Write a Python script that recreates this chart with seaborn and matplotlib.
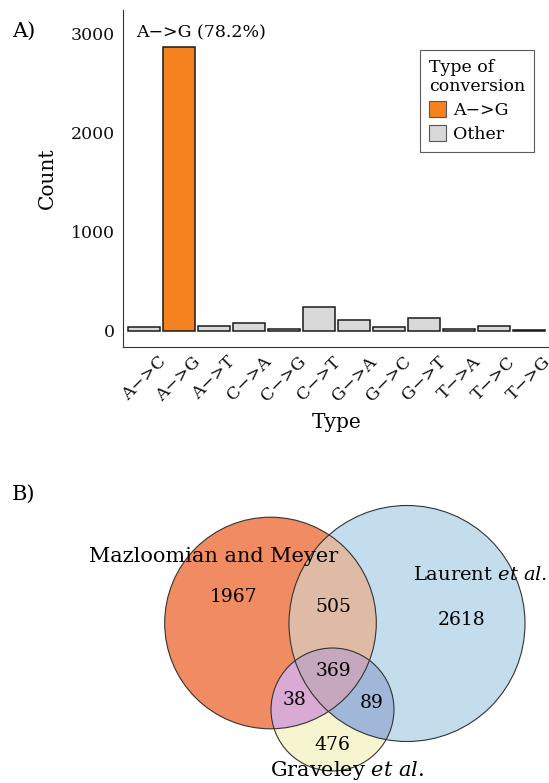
import numpy as np
import pandas as pd
import matplotlib
matplotlib.use("Agg")
import matplotlib.pyplot as plt
import seaborn as sns
from matplotlib.patches import Circle, Patch, Polygon

# ---- Panel A data: counts of each nucleotide conversion type ----
types = ["A−>C", "A−>G", "A−>T", "C−>A", "C−>G", "C−>T",
         "G−>A", "G−>C", "G−>T", "T−>A", "T−>C", "T−>G"]
counts = [37, 2873, 53, 84, 23, 245, 111, 37, 128, 23, 50, 10]
highlight = "A−>G"
groups = [highlight if t == highlight else "Other" for t in types]
group_colors = {highlight: "#F5821F", "Other": "#D9D9D9"}
yticks = [0, 1000, 2000, 3000]

# ---- Panel B data: overlap of editing sites between studies ----
set_names = ["Mazloomian and Meyer", r"Laurent $\mathit{et\ al.}$",
             r"Graveley $\mathit{et\ al.}$"]
only_m, only_l, only_g = 1967, 2618, 476
m_l, m_g, l_g = 505, 38, 89
m_l_g = 369

sns.set_style("white")
plt.rcParams["font.family"] = ["DejaVu Serif"]
plt.rcParams["mathtext.fontset"] = "custom"
plt.rcParams["mathtext.rm"] = "DejaVu Serif"
plt.rcParams["mathtext.it"] = "DejaVu Serif:italic"
plt.rcParams["text.color"] = "black"
plt.rcParams["axes.labelcolor"] = "black"

W, H = 549, 783
fig = plt.figure(figsize=(W / 100, H / 100), dpi=100, facecolor="white")

# ---------------- Panel A: bar chart ----------------
ax = fig.add_axes([123 / W, 1 - 347 / H, (550 - 123) / W, (347 - 10) / H])
df = pd.DataFrame({"Type": types, "Count": counts, "group": groups})
sns.barplot(data=df, x="Type", y="Count", hue="group", order=types,
            palette=group_colors, saturation=1, dodge=False, width=0.9,
            edgecolor="#1a1a1a", linewidth=1.1, legend=False, ax=ax)
ax.set_xlim(-0.6, len(types) - 0.4)
ax.set_ylim(-162, 3242)
ax.set_yticks(yticks)
ax.set_yticklabels([str(v) for v in yticks])
for side in ["top", "right"]:
    ax.spines[side].set_visible(False)
for side in ["left", "bottom"]:
    ax.spines[side].set_color("#333333")
    ax.spines[side].set_linewidth(0.8)
ax.tick_params(axis="both", direction="out", length=3, width=0.8,
               color="#333333", labelsize=12.5, labelcolor="#111111")
ax.tick_params(axis="x", pad=1.5, labelrotation=45)
ax.tick_params(axis="y", pad=3)
ax.set_xlabel("Type", fontsize=14.5, labelpad=6)
ax.set_ylabel("Count", fontsize=14.5, labelpad=10)

i_hl = types.index(highlight)
pct = 100 * counts[i_hl] / sum(counts)
ax.text(i_hl + 0.63, counts[i_hl] + 140, f"{highlight} ({pct:.1f}%)",
        ha="center", va="center", fontsize=12.5)

handles = [Patch(facecolor=group_colors[g], edgecolor="#555555", linewidth=0.8,
                 label=g) for g in [highlight, "Other"]]
leg = ax.legend(handles=handles, title="Type of\nconversion",
                loc="upper right", bbox_to_anchor=(534 / W, 1 - 50 / H),
                bbox_transform=fig.transFigure, borderaxespad=0,
                fontsize=12.5, title_fontsize=12.5, frameon=True,
                fancybox=False, edgecolor="#333333", handlelength=1.0,
                handleheight=1.0, handletextpad=0.4, labelspacing=0.35,
                borderpad=0.5, alignment="left")
leg.get_frame().set_linewidth(0.8)

fig.text(12 / W, 1 - 31 / H, "A)", fontsize=15, va="center")
fig.text(12 / W, 1 - 494 / H, "B)", fontsize=15, va="center")

# ---------------- Panel B: three-way Venn diagram ----------------
vx = fig.add_axes([0, 0, 1, 383 / H])
vx.set_xlim(0, W)
vx.set_ylim(0, 383)
vx.axis("off")

totals = [only_m + m_l + m_g + m_l_g,
          only_l + m_l + l_g + m_l_g,
          only_g + m_g + l_g + m_l_g]
scale = 1.972
radii = [scale * np.sqrt(t) for t in totals]
centers = [(270.5, 160.0), (407.0, 159.5), (332.5, 73.5)]
circles = list(zip(centers, radii))


def intersection(cs, n=3000):
    pts = []
    th = np.linspace(0, 2 * np.pi, n, endpoint=False)
    for i, (c, r) in enumerate(cs):
        p = np.c_[c[0] + r * np.cos(th), c[1] + r * np.sin(th)]
        keep = np.ones(n, bool)
        for j, (c2, r2) in enumerate(cs):
            if j != i:
                keep &= np.hypot(p[:, 0] - c2[0], p[:, 1] - c2[1]) <= r2
        pts.append(p[keep])
    pts = np.vstack(pts)
    ctr = pts.mean(0)
    order = np.argsort(np.arctan2(pts[:, 1] - ctr[1], pts[:, 0] - ctr[0]))
    return pts[order]


only_cols = ["#F08B62", "#C3DDEC", "#F7F5D0"]
for (c, r), col in zip(circles, only_cols):
    vx.add_patch(Circle(c, r, facecolor=col, edgecolor="none"))
pair_cols = {(0, 1): "#DFBBA5", (0, 2): "#D8AAD4", (1, 2): "#A1B7D9"}
for (a, b), col in pair_cols.items():
    vx.add_patch(Polygon(intersection([circles[a], circles[b]]),
                         closed=True, facecolor=col, edgecolor="none"))
vx.add_patch(Polygon(intersection(circles), closed=True,
                     facecolor="#C5A8BE", edgecolor="none"))
for c, r in circles:
    vx.add_patch(Circle(c, r, facecolor="none", edgecolor="#333333",
                        linewidth=0.8))

num_fs = 13.5
vx.text(234, 186, str(only_m), ha="center", va="center", fontsize=num_fs)
vx.text(462, 163, str(only_l), ha="center", va="center", fontsize=num_fs)
vx.text(332, 38, str(only_g), ha="center", va="center", fontsize=num_fs)
vx.text(333, 176, str(m_l), ha="center", va="center", fontsize=num_fs)
vx.text(295, 83, str(m_g), ha="center", va="center", fontsize=num_fs)
vx.text(372, 80, str(l_g), ha="center", va="center", fontsize=num_fs)
vx.text(333, 112, str(m_l_g), ha="center", va="center", fontsize=num_fs)

vx.text(213.5, 227, set_names[0], ha="center", va="center", fontsize=15)
vx.text(413, 208, set_names[1], ha="left", va="center", fontsize=14)
vx.text(347, 13, set_names[2], ha="center", va="center", fontsize=15)

fig.savefig("out.png", dpi=100, facecolor="white")
